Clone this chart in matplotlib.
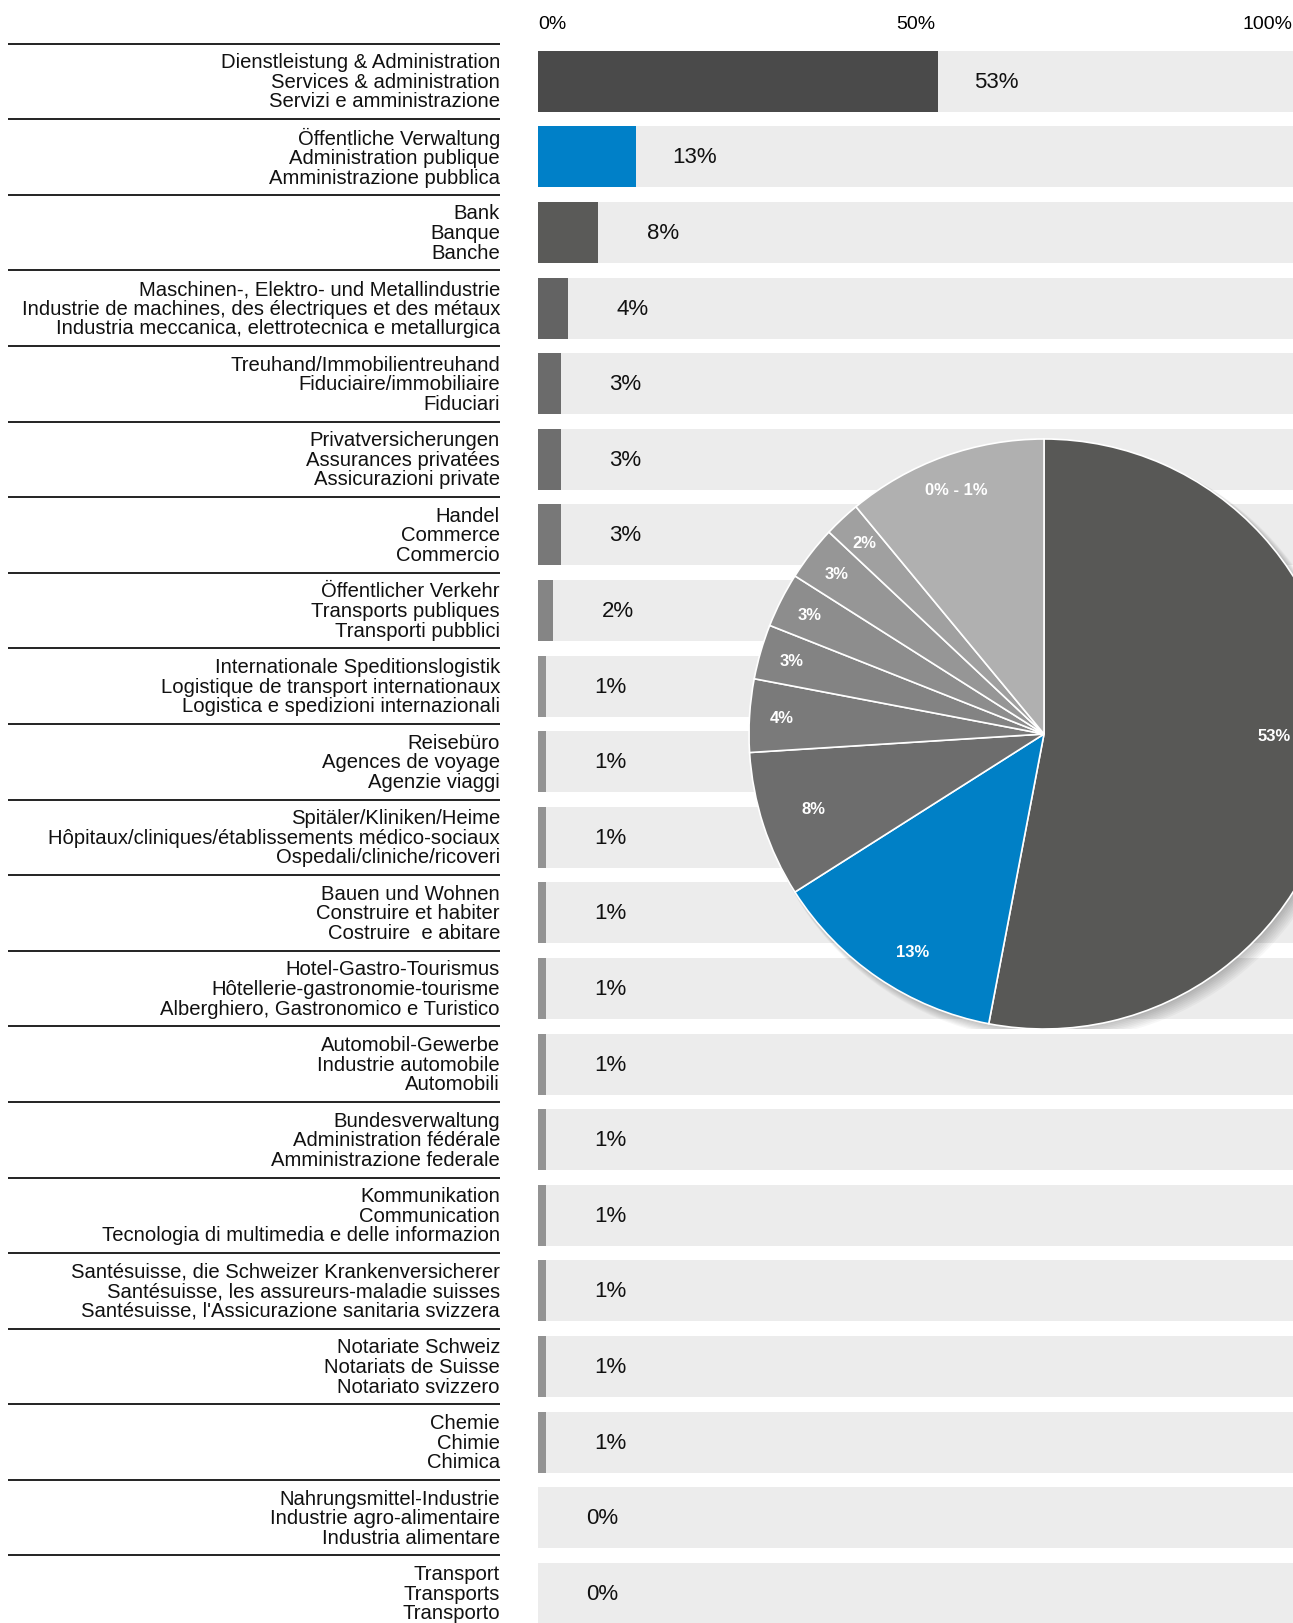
import numpy as np
import matplotlib
matplotlib.use("Agg")
import matplotlib.pyplot as plt
from matplotlib.patches import Circle

# Sectors, three language lines each (DE / FR / IT)
labels = [
    "Dienstleistung & Administration\nServices & administration\nServizi e amministrazione",
    "Öffentliche Verwaltung\nAdministration publique\nAmministrazione pubblica",
    "Bank\nBanque\nBanche",
    "Maschinen-, Elektro- und Metallindustrie\nIndustrie de machines, des électriques et des métaux\nIndustria meccanica, elettrotecnica e metallurgica",
    "Treuhand/Immobilientreuhand\nFiduciaire/immobiliaire\nFiduciari",
    "Privatversicherungen\nAssurances privatées\nAssicurazioni private",
    "Handel\nCommerce\nCommercio",
    "Öffentlicher Verkehr\nTransports publiques\nTransporti pubblici",
    "Internationale Speditionslogistik\nLogistique de transport internationaux\nLogistica e spedizioni internazionali",
    "Reisebüro\nAgences de voyage\nAgenzie viaggi",
    "Spitäler/Kliniken/Heime\nHôpitaux/cliniques/établissements médico-sociaux\nOspedali/cliniche/ricoveri",
    "Bauen und Wohnen\nConstruire et habiter\nCostruire  e abitare",
    "Hotel-Gastro-Tourismus\nHôtellerie-gastronomie-tourisme\nAlberghiero, Gastronomico e Turistico",
    "Automobil-Gewerbe\nIndustrie automobile\nAutomobili",
    "Bundesverwaltung\nAdministration fédérale\nAmministrazione federale",
    "Kommunikation\nCommunication\nTecnologia di multimedia e delle informazion",
    "Santésuisse, die Schweizer Krankenversicherer\nSantésuisse, les assureurs-maladie suisses\nSantésuisse, l'Assicurazione sanitaria svizzera",
    "Notariate Schweiz\nNotariats de Suisse\nNotariato svizzero",
    "Chemie\nChimie\nChimica",
    "Nahrungsmittel-Industrie\nIndustrie agro-alimentaire\nIndustria alimentare",
    "Transport\nTransports\nTransporto",
]
values = [53, 13, 8, 4, 3, 3, 3, 2, 1, 1, 1, 1, 1, 1, 1, 1, 1, 1, 1, 0, 0]
bar_colors = ["#4a4a4a", "#0080c8", "#5a5a58", "#636363", "#6b6b6b", "#6e6e6e",
              "#787878", "#858585"] + ["#939393"] * 13

# Pie: the big sectors plus everything at 0-1%
pie_values = [53, 13, 8, 4, 3, 3, 3, 2, 11]
pie_labels = ["53%", "13%", "8%", "4%", "3%", "3%", "3%", "2%", "0% - 1%"]
pie_colors = ["#585856", "#0080c6", "#6d6d6d", "#7a7a7a", "#838383", "#8d8d8d",
              "#969696", "#a0a0a0", "#b0b0b0"]
# label radius and angle nudge (deg) per slice
pie_label_dist = [0.78, 0.86, 0.82, 0.89, 0.89, 0.89, 0.89, 0.89, 0.88]
pie_label_turn = [5.0, 3.0, 0, 0, 0, 0, 0, 0, 0]

FONT = ["Liberation Sans", "DejaVu Sans"]
W, H = 1293, 1624
fig = plt.figure(figsize=(W / 100, H / 100), dpi=100)

n = len(values)
pitch = 75.6
first_center = 82.3
ylim = ((H - first_center) / pitch, -first_center / pitch)

# bars
ax = fig.add_axes([538 / W, 0, 1 - 538 / W, 1])
ax.set_xlim(0, 100)
ax.set_ylim(*ylim)
ax.axis("off")
ypos = np.arange(n)
ax.barh(ypos, [100] * n, height=0.807, color="#ececec", zorder=1)
ax.barh(ypos, values, height=0.807, color=bar_colors, zorder=2)
for y, v in zip(ypos, values):
    ax.annotate(f"{v}%", (v, y), xytext=(58, 0), textcoords="offset points",
                ha="right", va="center", fontsize=16, family=FONT, color="#111111")

tick_y = -0.77
ax.text(0, tick_y, "0%", ha="left", va="center", fontsize=14, family=FONT)
ax.text(50, tick_y, "50%", ha="center", va="center", fontsize=14, family=FONT)
ax.text(100, tick_y, "100%", ha="right", va="center", fontsize=14, family=FONT)

# labels + separators
lax = fig.add_axes([8 / W, 0, (500 - 8) / W, 1])
lax.set_xlim(0, 1)
lax.set_ylim(*ylim)
lax.axis("off")
lax.hlines(ypos - 0.5, 0, 1, color="#222222", lw=1.4)
for y, lab in zip(ypos, labels):
    lax.text(1, y, lab, ha="right", va="center", fontsize=14.6, family=FONT,
             linespacing=1.04, color="#111111")

# pie overlay
cx, cy, r = 1044, 735, 295
pax = fig.add_axes([(cx - r) / W, 1 - (cy + r) / H, 2 * r / W, 2 * r / H])
# soft shadow towards the lower right
for k in range(8):
    pax.add_patch(Circle((0.006 + 0.003 * k, -0.006 - 0.003 * k), 1.0 + 0.002 * k,
                         color="black", alpha=0.03, lw=0, zorder=0))
wedges, _ = pax.pie(pie_values, colors=pie_colors, startangle=90, counterclock=False,
                    wedgeprops=dict(edgecolor="white", linewidth=1.2, zorder=2))
for w, lab, d, t in zip(wedges, pie_labels, pie_label_dist, pie_label_turn):
    ang = np.deg2rad((w.theta1 + w.theta2) / 2 + t)
    pax.text(d * np.cos(ang), d * np.sin(ang), lab, ha="center", va="center",
             color="white", fontsize=12, fontweight="bold", family=FONT, zorder=3)
pax.set_xlim(-1, 1)
pax.set_ylim(-1, 1)
pax.set_aspect("equal")

fig.savefig("out.png", dpi=100)
